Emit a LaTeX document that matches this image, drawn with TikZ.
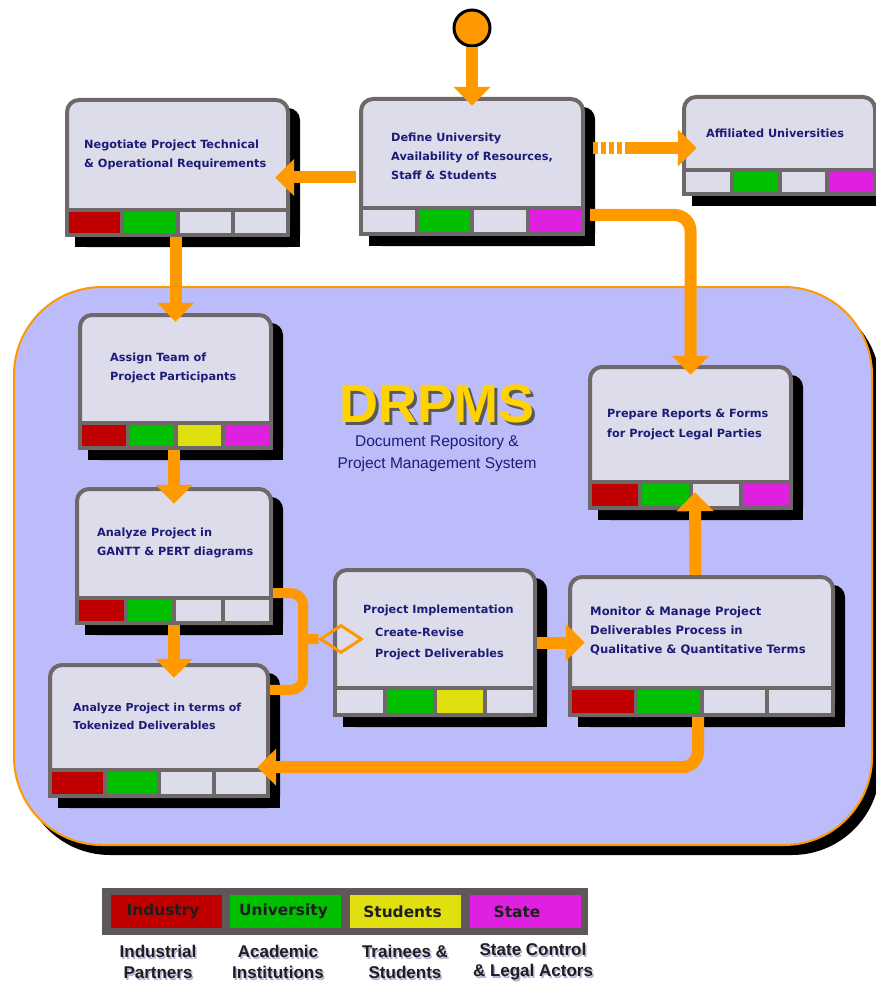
\documentclass[tikz,border=0pt]{standalone}
\usepackage{fontspec}
\setmainfont{DejaVu Sans}
\newfontfamily\lsans{Liberation Sans}
\usetikzlibrary{arrows.meta,shapes.geometric,calc}

\definecolor{floworange}{RGB}{255,153,0}
\definecolor{framegray}{RGB}{110,104,104}
\definecolor{legendgray}{RGB}{94,88,88}
\definecolor{boxfill}{RGB}{220,220,234}
\definecolor{cellgray}{RGB}{220,220,234}
\definecolor{areafill}{RGB}{188,188,250}
\definecolor{navy}{RGB}{28,28,120}
\definecolor{indred}{RGB}{192,0,0}
\definecolor{unigreen}{RGB}{0,192,0}
\definecolor{stuyellow}{RGB}{224,224,16}
\definecolor{statemag}{RGB}{224,32,224}
\definecolor{titleyellow}{RGB}{255,210,0}
\definecolor{legendtext}{RGB}{30,30,30}
\definecolor{softshadow}{RGB}{176,176,214}

% Process box: #1 name, #2 left, #3 top, #4 right, #5 bottom,
% #6 top of the role bar, #7 colours of the four role cells
\newcommand\procbox[7]{%
  \fill[black, rounded corners=12pt] (#2+10,#3+10) rectangle (#4+10,#5+10);
  \fill[black] (#2+10,#6) rectangle (#4+10,#5+10);
  \draw[framegray, line width=4pt, fill=boxfill, rounded corners=12pt]
    (#2+2,#3+2) rectangle (#4-2,#5-2);
  \fill[framegray] (#2,#6-2) rectangle (#4,#5);
  \pgfmathsetmacro\cellw{(#4-#2-8-12)/4}
  \foreach \cc [count=\ii from 0] in {#7} {
    \pgfmathsetmacro\cellx{#2+4+\ii*(\cellw+4)}
    \fill[\cc] (\cellx,#6+2) rectangle (\cellx+\cellw,#5-4);
  }
  \node[inner sep=0pt, minimum width={(#4-#2)*1pt}, minimum height={(#5-#3)*1pt}]
    (#1) at ({(#2+#4)/2},{(#3+#5)/2}) {};
}

\begin{document}
\begin{tikzpicture}[x=1pt, y=-1pt,
  flow/.style={draw=floworange, line width=12pt, -{Triangle[width=36pt,length=19pt]}},
  flowline/.style={draw=floworange, line width=12pt},
  boxtext/.style={anchor=north west, inner sep=0pt, align=left, text=navy,
    font=\bfseries\fontsize{11.3}{19}\selectfont},
  titletext/.style={inner sep=0pt, font=\lsans\bfseries\fontsize{54}{54}\selectfont},
  legcell/.style={minimum width=111pt, minimum height=33pt, inner sep=0pt},
  legname/.style={text=legendtext, font=\bfseries\fontsize{15.4}{18}\selectfont},
  legrole/.style={align=center, font=\lsans\bfseries\fontsize{17}{21}\selectfont}]

\useasboundingbox (0,0) rectangle (875,984);
\fill[white] (0,0) rectangle (875,984);

% DRPMS area
\fill[black, rounded corners=88pt] (22,297) rectangle (880,855);
\node[draw=floworange, fill=areafill, line width=2pt, rounded corners=88pt,
  minimum width=858pt, minimum height=558pt, inner sep=0pt] (area) at (443,566) {};

% process boxes
\procbox{neg}{65}{98}{290}{237}{210}{indred,unigreen,cellgray,cellgray}
\procbox{def}{359}{97}{585}{236}{208}{cellgray,unigreen,cellgray,statemag}
\procbox{aff}{682}{95}{877}{196}{170}{cellgray,unigreen,cellgray,statemag}
\procbox{assign}{78}{313}{273}{450}{423}{indred,unigreen,stuyellow,statemag}
\procbox{gantt}{75}{487}{273}{625}{598}{indred,unigreen,cellgray,cellgray}
\procbox{tok}{48}{663}{270}{798}{770}{indred,unigreen,cellgray,cellgray}
\procbox{impl}{333}{568}{537}{717}{688}{cellgray,unigreen,stuyellow,cellgray}
\procbox{mon}{568}{575}{835}{717}{688}{indred,unigreen,cellgray,cellgray}
\procbox{prep}{588}{365}{793}{510}{482}{indred,unigreen,cellgray,statemag}

% start point
\node[circle, fill=floworange, draw=black, line width=3pt, minimum size=36pt, inner sep=0pt]
  (start) at (472,28) {};

% connectors
\draw[flow] (start.south) -- ($(def.north)+(0,9)$);
\draw[flow] ($(def.west)+(-3,11)$) -- ($(neg.east)+(-15,10)$);
\coordinate (affdash) at (628,148);
\draw[flowline, dash pattern=on 5pt off 3pt] ($(def.east)+(8,-18.5)$) -- (affdash);
\draw[flow] (affdash) -- ($(aff.west)+(15,2.5)$);
\draw[flow, rounded corners=16pt] ($(def.east)+(5,48.5)$) -| ($(prep.north)+(0,10)$);
\draw[flow] (neg.south -| assign.north) -- ($(assign.north)+(0,9)$);
\draw[flow] (assign.south -| gantt.north) -- ($(gantt.north)+(0,17)$);
\draw[flow] (gantt.south) -- ($(gantt.south |- tok.north)+(0,15)$);
\draw[flowline, line width=10pt, rounded corners=12pt]
  ($(gantt.south east)+(0,-32)$) -- ++(30,0) |- ($(tok.north east)+(0,27)$);
\node[diamond, draw=floworange, line width=3pt, minimum width=42pt, minimum height=28pt,
  inner sep=0pt] (joint) at (341,639) {};
\draw[flowline, line width=10pt] ($(gantt.south east)+(30,14)$) -- (joint.west);
\draw[flow] (impl.east) -- ($(impl.east -| mon.west)+(17,0)$);
\draw[flow] ($(mon.north)+(-6,0)$) -- ($(prep.south)+(4.5,-18)$);
\draw[flow, rounded corners=16pt] ($(mon.south)+(-3.5,0)$) |- ($(tok.south east)+(-13,-31)$);

% box texts
\node[boxtext] (neg-text) at (84,139.5) {Negotiate Project Technical\\\& Operational Requirements};
\node[boxtext] (def-text) at (391,132.5) {Define University\\Availability of Resources,\\Staff \& Students};
\node[boxtext] (aff-text) at (706,128.5) {Affiliated Universities};
\node[boxtext] (assign-text) at (110,352.5) {Assign Team of\\Project Participants};
\node[boxtext] (gantt-text) at (97,527.5) {Analyze Project in\\GANTT \& PERT diagrams};
\node[boxtext, font=\bfseries\fontsize{11}{18}\selectfont] (tok-text) at (73,702.5)
  {Analyze Project in terms of\\Tokenized Deliverables};
\node[boxtext] (impl-title) at (363,604.5) {Project Implementation};
\node[boxtext, font=\bfseries\fontsize{11.3}{21}\selectfont] (impl-text) at (375,627.5)
  {Create-Revise\\Project Deliverables};
\node[boxtext, font=\bfseries\fontsize{11.6}{19}\selectfont] (mon-text) at (590,606.5)
  {Monitor \& Manage Project\\Deliverables Process in\\Qualitative \& Quantitative Terms};
\node[boxtext, font=\bfseries\fontsize{11.3}{20}\selectfont] (prep-text) at (607,408.5)
  {Prepare Reports \& Forms\\for Project Legal Parties};

% title
\node[titletext, text=black!65] (title-shadow) at (440,407) {DRPMS};
\node[titletext, text=titleyellow] (title) at (437,404) {DRPMS};
\node[text=navy, align=center, inner sep=0pt, font=\lsans\fontsize{15.5}{22}\selectfont] (subtitle) at (437,453)
  {Document Repository \&\\Project Management System};

% legend
\node[fill=legendgray, minimum width=486pt, minimum height=47pt, inner sep=0pt] (legend) at (345,911.5) {};
\node[legcell, fill=indred] (leg-ind) at (166,911.5) {};
\node[legcell, fill=unigreen] (leg-uni) at (285.5,911.5) {};
\node[legcell, fill=stuyellow] (leg-stu) at (405.5,911.5) {};
\node[legcell, fill=statemag] (leg-state) at (525,911.5) {};
\node[legname] (leg-ind-name) at ($(leg-ind)+(-3,0)$) {Industry};
\node[legname] (leg-uni-name) at ($(leg-uni)+(-2,0)$) {University};
\node[legname] (leg-stu-name) at ($(leg-stu)+(-3,0)$) {Students};
\node[legname] (leg-state-name) at ($(leg-state)+(-8,0)$) {State};

\foreach \px/\nm/\txt in {158/ind/{Industrial\\Partners}, 278/uni/{Academic\\Institutions},
    405/stu/{Trainees \&\\Students}, 533/state/{State Control\\\& Legal Actors}} {
  \node[legrole, text=softshadow] (role-\nm-shadow) at (\px+1.5,963.5) {\txt};
  \node[legrole, text=legendtext] (role-\nm) at (\px,962) {\txt};
}
\end{tikzpicture}
\end{document}
